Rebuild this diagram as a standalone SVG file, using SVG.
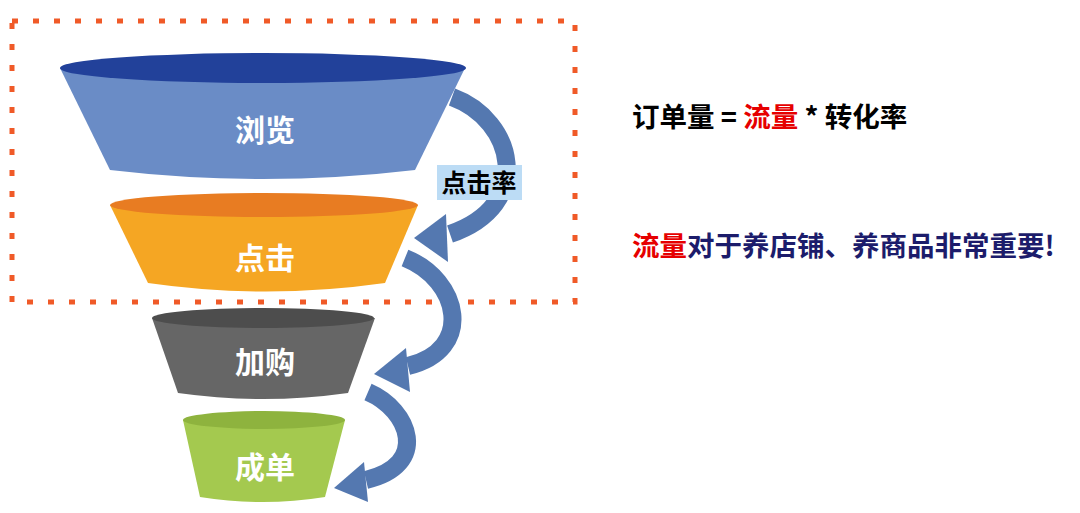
<svg xmlns="http://www.w3.org/2000/svg" width="1080" height="513" viewBox="0 0 1080 513">
<style>
.lbl{font-family:"Noto Sans CJK SC","Noto Sans",sans-serif;font-weight:bold;fill:#fff;font-size:30px;text-anchor:middle}
.t{font-family:"Noto Sans CJK SC","Liberation Sans",sans-serif;font-weight:bold;font-size:27.5px}
.arr{fill:none;stroke:#5478b0;stroke-width:18}
.head{fill:#5478b0}
</style>
<rect width="1080" height="513" fill="#fff"/>
<rect x="12" y="21" width="563" height="281" fill="none" stroke="#f05a28" stroke-width="5" stroke-dasharray="6 15"/>
<g id="browse">
<path d="M60,68 L110,170 Q263,188 415,170 L465,68 Z" fill="#6a8cc6"/>
<ellipse cx="263" cy="68" rx="203" ry="15" fill="#22419a"/>
<text class="lbl" x="265" y="141">浏览</text>
</g>
<g id="click">
<path d="M110,205 L148,283 Q265,300 385,283 L418,205 Z" fill="#f5a623"/>
<ellipse cx="264" cy="205" rx="154" ry="12" fill="#e87c22"/>
<text class="lbl" x="265" y="269">点击</text>
</g>
<g id="cart">
<path d="M152,318 L178,393 Q263,405 348,393 L375,318 Z" fill="#666"/>
<ellipse cx="263" cy="318" rx="111" ry="10" fill="#4d4d4d"/>
<text class="lbl" x="265" y="373">加购</text>
</g>
<g id="order">
<path d="M183,420 L200,497 Q263,507 325,497 L345,420 Z" fill="#a4c94f"/>
<ellipse cx="264" cy="420" rx="81" ry="9" fill="#8eb33e"/>
<text class="lbl" x="265" y="478">成单</text>
</g>
<g id="connectors">
<path class="arr" d="M452,97 C515,120 535,205 450,234"/>
<polygon class="head" points="414,238 446,214 448,262"/>
<path class="arr" d="M405,258 C460,280 475,350 408,366"/>
<polygon class="head" points="374,374 406,348 410,392"/>
<path class="arr" d="M368,392 C410,410 430,465 366,480"/>
<polygon class="head" points="334,488 364,462 368,502"/>
</g>
<g id="rate">
<rect x="437" y="165" width="85" height="35" fill="#bcdcf5"/>
<text x="479" y="192" font-family="Noto Sans CJK SC,sans-serif" font-weight="bold" font-size="25" text-anchor="middle" fill="#000">点击率</text>
</g>
<text class="t" x="632" y="127" fill="#000">订单量 = <tspan fill="#e60000">流量</tspan> * 转化率</text>
<text class="t" x="632" y="256" fill="#1c1c6b">
<tspan fill="#e60000">流量</tspan>对于养店铺、养商品非常重要!</text>
</svg>
